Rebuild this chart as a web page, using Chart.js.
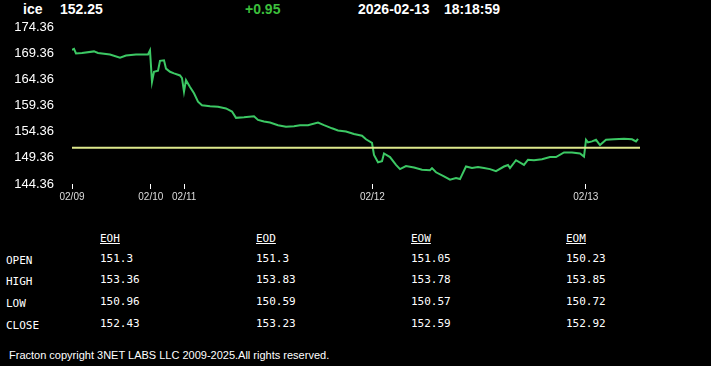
<!DOCTYPE html>
<html><head><meta charset="utf-8">
<script src="https://cdn.jsdelivr.net/npm/chart.js@4/dist/chart.umd.min.js"></script>
<style>
body{margin:0;background:#000;width:711px;height:366px;overflow:hidden;position:relative;font-family:"Liberation Sans",Arial,sans-serif;}
.t{position:absolute;top:1px;font-weight:bold;font-size:14px;color:#fff;white-space:nowrap;line-height:16px}
#wrap{position:absolute;left:0;top:0;width:711px;height:214px}
.mono{position:absolute;font-family:"DejaVu Sans Mono",monospace;font-size:11px;color:#fff;line-height:13px;white-space:nowrap}
.hdr{text-decoration:underline;text-underline-offset:1px}
.foot{position:absolute;left:9px;top:348.5px;font-size:11px;line-height:13px;color:#fff;white-space:nowrap}
</style></head><body>
<div class="t" style="left:23px">ice</div>
<div class="t" style="left:60px" id="price"></div>
<div class="t" style="left:245px;color:#3cbf3c" id="chg"></div>
<div class="t" style="left:358px" id="date"></div>
<div class="t" style="left:444px" id="time"></div>
<div id="wrap"><canvas id="c" width="711" height="214"></canvas></div>
<div id="table"></div>
<div class="foot">Fracton copyright 3NET LABS LLC 2009-2025.All rights reserved.</div>
<script>
// ---- data ----
const symbol = "ice";
const lastPrice = "152.25";
const change = "+0.95";
const stampDate = "2026-02-13";
const stampTime = "18:18:59";

const times = [0,1,2,5,11,13,19,24,27,32,38,39,40,41,43,44,46,47,49,51,54,55,56,57,59,61,63,65,69,73,77,80,82,86,91,93,96,99,103,107,111,114,118,123,126,130,133,137,141,145,147,150,151,153,155,156,159,162,164,167,171,175,179,180,182,186,189,192,194,195,197,200,203,206,209,212,216,218,219,222,226,228,231,235,239,242,246,250,254,256,257,258,260,262,264,267,271,276,280,282,283];
const prices = [170.0,170.2,169.3,169.4,169.7,169.4,169.1,168.5,168.9,169.1,169.1,169.9,163.9,165.8,166.0,167.9,168.0,166.4,165.8,165.5,165.1,164.6,162.0,164.2,162.9,161.7,160.1,159.4,159.2,159.1,158.8,158.2,157.0,157.1,157.3,156.6,156.3,156.1,155.6,155.3,155.4,155.6,155.6,156.1,155.6,155.0,154.6,154.4,153.9,153.6,152.9,152.2,149.9,148.5,148.7,150.2,149.5,148.0,147.2,147.8,147.5,147.1,147.0,147.4,146.6,145.8,145.2,145.5,145.3,146.1,147.7,147.4,147.6,147.4,147.2,146.8,147.7,148.0,147.4,148.9,148.0,149.0,148.9,149.1,149.5,149.5,150.4,150.4,150.2,149.6,152.8,152.3,152.5,152.8,151.8,152.8,152.9,153.0,152.9,152.5,153.0];
const refLevel = 151.3;
const xRange = [0, 284];
const dateTickPos = [0, 39.4, 56.1, 150.2, 256.9];
const dateTickLabels = ["02/09","02/10","02/11","02/12","02/13"];
const yTicks = [144.36,149.36,154.36,159.36,164.36,169.36,174.36];

const tableCols = ["EOH","EOD","EOW","EOM"];
const tableRows = ["OPEN","HIGH","LOW","CLOSE"];
const eoh = ["151.3","153.36","150.96","152.43"];
const eod = ["151.3","153.83","150.59","153.23"];
const eow = ["151.05","153.78","150.57","152.59"];
const eom = ["150.23","153.85","150.72","152.92"];

// ---- header text ----
document.getElementById('price').textContent = lastPrice;
document.getElementById('chg').textContent = change;
document.getElementById('date').textContent = stampDate;
document.getElementById('time').textContent = stampTime;

// ---- table ----
const colX = [100, 256, 411, 566];
const rowY = [253.7, 274.7, 296.7, 318.7];
const tbl = document.getElementById('table');
function addDiv(cls, txt, x, y){const d=document.createElement('div');d.className=cls;d.textContent=txt;d.style.left=x+'px';d.style.top=y+'px';tbl.appendChild(d);}
const colsData = [eoh, eod, eow, eom];
tableCols.forEach((h,i)=>addDiv('mono hdr', h, colX[i], 231.7));
tableRows.forEach((r,j)=>{
  addDiv('mono', r, 6, rowY[j]);
  colsData.forEach((col,i)=>addDiv('mono', col[j], colX[i], rowY[j]-1.5));
});

// ---- chart ----
Chart.defaults.font.family = '"Liberation Sans", Arial, sans-serif';
const lineData = times.map((t,i)=>({x:t, y:prices[i]}));
new Chart(document.getElementById('c'), {
  type: 'line',
  data: { datasets: [
    { data: lineData, borderColor: 'rgb(60,200,100)', borderWidth: 2, pointRadius: 0, tension: 0, order: 1 },
    { data: [{x:xRange[0], y:refLevel},{x:xRange[1], y:refLevel}], borderColor: 'rgb(222,232,140)', borderWidth: 2, pointRadius: 0, order: 0 }
  ]},
  options: {
    responsive: false, animation: false, devicePixelRatio: 1,
    layout: { padding: { left: 0, right: 71, top: 27, bottom: 0 } },
    plugins: { legend: { display: false }, tooltip: { enabled: false } },
    scales: {
      x: {
        type: 'linear', min: xRange[0], max: xRange[1],
        afterBuildTicks: s => { s.ticks = dateTickPos.map(v => ({ value: v })); },
        afterFit: s => { s.height = 30; },
        ticks: { autoSkip: false, maxRotation: 0, padding: 2, color: '#ddd', font: { size: 10 },
                 callback: (v, i) => dateTickLabels[i] },
        grid: { drawOnChartArea: false, drawTicks: true, tickLength: 5, color: '#fff' },
        border: { display: false }
      },
      y: {
        min: yTicks[0], max: yTicks[yTicks.length-1],
        afterBuildTicks: s => { s.ticks = yTicks.map(v => ({ value: v })); },
        afterFit: s => { s.width = 72; },
        ticks: { padding: 10, color: '#fff', font: { size: 13 }, callback: v => v.toFixed(2) },
        grid: { display: false },
        border: { display: false }
      }
    }
  }
});
</script>
</body></html>
